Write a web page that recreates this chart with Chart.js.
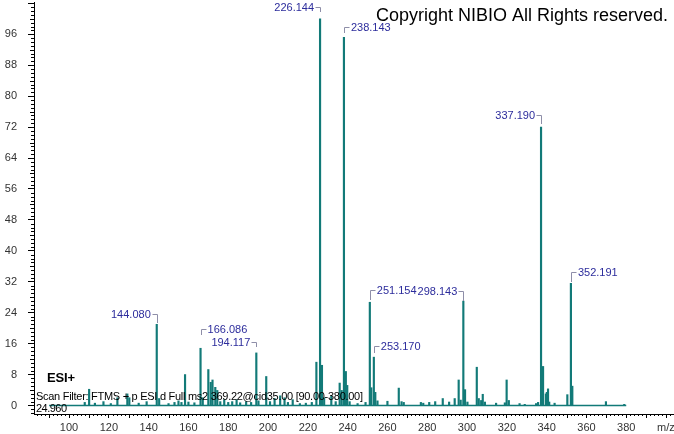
<!DOCTYPE html>
<html><head><meta charset="utf-8">
<script src="https://cdn.jsdelivr.net/npm/chart.js@4.4.1/dist/chart.umd.min.js"></script>
<style>html,body{margin:0;padding:0;background:#fff;overflow:hidden}canvas{display:block}</style>
</head><body>
<canvas id="c" width="674" height="434"></canvas>
<script>
// ---- data (m/z, relative intensity) ----
const mzValues = [107.9,110.1,113.0,117.3,121.0,124.3,129.3,130.3,135.0,139.0,
  144.080,145.3,150.0,153.0,155.0,156.5,158.3,160.0,163.0,166.086,167.2,170.0,171.2,172.1,173.5,174.5,
  176.0,178.0,180.0,182.0,184.2,186.0,189.0,191.5,194.117,195.2,199.1,201.0,203.3,206.1,208.3,210.0,
  212.4,216.0,219.0,222.0,224.3,226.144,227.1,228.2,231.8,234.0,236.0,237.0,238.143,239.1,239.8,241.0,
  245.0,249.0,251.154,251.9,253.170,253.9,255.0,260.0,265.7,267.1,268.2,276.8,278.0,281.0,284.0,287.8,
  291.0,293.8,295.8,296.8,298.143,299.0,300.2,304.9,305.9,307.1,307.9,309.0,314.6,319.0,319.9,321.0,
  326.4,329.0,334.7,335.7,337.190,338.2,339.6,340.1,340.7,341.3,344.0,350.4,352.191,352.9,369.8,379.0];
const intensities = [0.8,4.2,0.6,1.0,0.5,2.0,3.0,2.0,0.6,1.0,
  21.0,1.8,0.5,0.8,1.2,0.8,8.0,0.9,0.7,14.8,2.0,9.3,6.0,6.6,4.7,3.9,
  1.0,1.5,0.8,1.0,1.5,0.7,1.0,0.8,13.6,1.2,7.5,1.0,1.8,2.5,2.0,0.8,
  1.5,0.5,0.6,0.8,11.2,100,10.4,2.0,2.4,1.0,5.8,3.9,95.2,8.8,5.2,1.0,
  0.5,0.8,26.7,4.6,12.5,3.4,1.2,1.1,4.5,1.0,0.8,0.8,0.6,0.8,1.0,1.8,
  0.9,1.8,6.6,1.4,27.0,4.1,0.9,9.9,1.8,1.3,2.9,0.9,0.6,0.7,6.6,1.3,
  0.5,0.3,0.5,0.8,72.0,10.1,3.0,3.4,4.3,0.9,0.6,2.8,31.6,5.0,1.0,0.3];
const labelTexts = ['144.080','166.086','194.117','226.144','238.143','251.154','253.170','298.143','337.190','352.191'];
const labelMz = [144.080,166.086,194.117,226.144,238.143,251.154,253.170,298.143,337.190,352.191];
const scanRange = [90, 380];
const yTickStep = 8;
const yLabelMax = 96;
const xTickStep = 20;
const xLabelRange = [100, 380];
const copyrightText = 'Copyright NIBIO All Rights reserved.';
const modeText = 'ESI+';
const filterText = 'Scan Filter: FTMS + p ESI d Full ms2 369.22@cid35.00 [90.00-380.00]';
const rtText = '24.960';
const xTitle = 'm/z';

// ---- layout / style (not data) ----
const labelLayout = { // side, text height above peak (px), bracket length (px)
  '144.080':['left',10,9], '166.086':['right',19,6], '194.117':['left',11,5],
  '226.144':['left',11.5,5], '238.143':['right',10,6], '251.154':['right',12,10],
  '253.170':['right',11,7], '298.143':['left',10.5,10], '337.190':['left',12,9],
  '352.191':['right',11,10]
};
const TEAL = '#127a78';
const FONT = '"Liberation Sans", Arial, sans-serif';

const peakData = mzValues.map((m,i)=>({x:m, y:intensities[i]}));

function spacedText(ctx, text, x, y, targetWidth) {
  const w = ctx.measureText(text).width;
  const extra = (targetWidth - w) / (text.length - 1);
  let cx = x;
  for (const ch of text) {
    ctx.fillText(ch, cx, y);
    cx += ctx.measureText(ch).width + extra;
  }
}

const decor = {
  id:'decor',
  afterDraw(chart){
    const ctx = chart.ctx, xs = chart.scales.x, ys = chart.scales.y, ca = chart.chartArea;
    ctx.save();
    // minor ticks
    ctx.strokeStyle = '#000'; ctx.lineWidth = 1;
    ctx.beginPath();
    for (let v = Math.ceil(ys.min); v <= ys.max; v++) {
      if (v % yTickStep === 0 && v <= yLabelMax) continue;
      const y = Math.round(ys.getPixelForValue(v)) + 0.5;
      const len = (v % 4 === 0) ? 4 : 3;
      ctx.moveTo(ca.left - len, y); ctx.lineTo(ca.left, y);
    }
    for (let v = Math.ceil(xs.min/2)*2; v <= xs.max; v += 2) {
      if (v % xTickStep === 0) continue;
      const x = Math.round(xs.getPixelForValue(v)) + 0.5;
      const len = (v % 10 === 0) ? 4 : 2;
      ctx.moveTo(x, ca.bottom); ctx.lineTo(x, ca.bottom + len);
    }
    ctx.stroke();
    // peak labels
    ctx.font = '11px ' + FONT;
    ctx.textBaseline = 'middle';
    labelTexts.forEach((t, k) => {
      const m = labelMz[k];
      const idx = mzValues.indexOf(m);
      const px = xs.getPixelForValue(m), py = ys.getPixelForValue(intensities[idx]);
      const [side, dy, blen] = labelLayout[t];
      const ty = Math.round(py - dy);
      const bx = Math.round(px) + 0.5;
      ctx.strokeStyle = '#8e8ea8'; ctx.lineWidth = 1;
      ctx.beginPath();
      const hx = side === 'left' ? bx - 5 : bx + 5;
      ctx.moveTo(hx, ty + 0.5); ctx.lineTo(bx, ty + 0.5); ctx.lineTo(bx, ty + blen);
      ctx.stroke();
      ctx.fillStyle = '#2c2c9c';
      if (side === 'left') { ctx.textAlign = 'right'; ctx.fillText(t, px - 6, ty + 1); }
      else { ctx.textAlign = 'left'; ctx.fillText(t, px + 7, ty + 1); }
    });
    // texts
    ctx.textBaseline = 'alphabetic';
    ctx.fillStyle = '#000';
    ctx.font = '18px ' + FONT; ctx.textAlign = 'right';
    ctx.fillText(copyrightText, 668, 20.5);
    ctx.textAlign = 'left';
    ctx.font = 'bold 13px ' + FONT;
    spacedText(ctx, modeText, 47, 381.5, 28);
    ctx.font = '11px ' + FONT;
    spacedText(ctx, filterText, 36, 400, 327);
    spacedText(ctx, rtText, 36, 411.5, 31);
    ctx.fillStyle = '#333';
    ctx.font = '11px ' + FONT;
    ctx.fillText(xTitle, 657, 431);
    ctx.restore();
  }
};

Chart.defaults.font.family = FONT;
new Chart(document.getElementById('c'), {
  type: 'bar',
  data: {
    datasets: [
      { type:'bar', data: peakData, backgroundColor: TEAL, borderWidth: 0, barThickness: 1.5, grouped:false, order: 1 },
      { type:'line', data: [{x:scanRange[0], y:0},{x:scanRange[1], y:0}], borderColor: TEAL, borderWidth: 1.5, pointRadius: 0, order: 2 }
    ]
  },
  options: {
    responsive: false, animation: false, devicePixelRatio: 1,
    layout: { padding: { top: 2, left: 0, right: 0, bottom: 0 } },
    plugins: { legend: { display:false }, tooltip: { enabled:false } },
    scales: {
      x: {
        type: 'linear', min: 82.4, max: 404.0, offset: false,
        afterFit: s => { s.height = 20; s.paddingLeft = 0; s.paddingRight = 0; },
        grid: { drawOnChartArea:false, offset:false, tickLength: 4, color:'#000' },
        border: { display:true, color:'#000', width:1 },
        ticks: { stepSize: xTickStep, includeBounds:false, maxRotation:0, autoSkip:false, padding: 3,
          color:'#333', font:{size:11},
          callback: v => (v >= xLabelRange[0] && v <= xLabelRange[1]) ? String(v) : '' }
      },
      y: {
        min: -2.2, max: 104.35,
        afterFit: s => { s.width = 34; s.paddingTop = 0; s.paddingBottom = 0; },
        grid: { drawOnChartArea:false, tickLength: 6, color:'#000' },
        border: { display:true, color:'#000', width:1 },
        ticks: { stepSize: yTickStep, includeBounds:false, padding: 11, color:'#333', font:{size:11},
          callback: v => (v <= yLabelMax) ? String(v) : '' }
      }
    }
  },
  plugins: [decor]
});
</script>
</body></html>
